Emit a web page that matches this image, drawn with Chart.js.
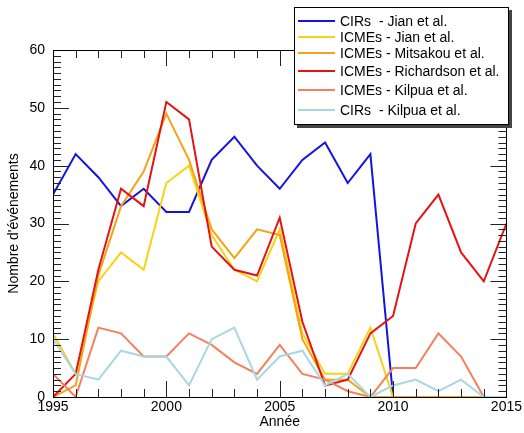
<!DOCTYPE html>
<html><head><meta charset="utf-8">
<script src="https://cdn.jsdelivr.net/npm/chart.js@4"></script>
<style>
html,body{margin:0;padding:0;background:#fff;}
#wrap{position:relative;width:524px;height:433px;}
#legend{position:absolute;left:294px;top:7px;width:213px;height:116px;border:1px solid #000;background:#fff;box-shadow:3px 3px 0 #444;font-family:"Liberation Sans",Arial,sans-serif;font-size:14px;color:#000;}
.row{position:absolute;left:0;height:16px;line-height:16px;white-space:pre;}
.row .sw{position:absolute;left:3px;top:7px;width:37px;height:2px;}
.row .tx{position:absolute;left:45px;top:0;}
</style></head>
<body><div id="wrap"><canvas id="c" width="524" height="433"></canvas><div id="legend"></div></div>
<script>
const years = [1995,1996,1997,1998,1999,2000,2001,2002,2003,2004,2005,2006,2007,2008,2009,2010,2011,2012,2013,2014,2015];
const cirsJian       = [35,42,38,33,36,32,32,41,45,40,36,41,44,37,42,0,null,null,null,null,null];
const icmesJian      = [11,4,20,25,22,37,40,28,22,20,29,11,4,4,12,0,null,null,null,null,null];
const icmesMitsakou  = [0,2,21,33,39,49,41,29,24,29,28,10,3,3,0,0,0,0,0,0,null];
const icmesRichardson= [0,4,22,36,33,51,48,26,22,21,31,13,2,3,11,14,30,35,25,20,30];
const icmesKilpua    = [4,0,12,11,7,7,11,9,6,4,9,4,3,1,0,5,5,11,7,0,null];
const cirsKilpua     = [10,4,3,8,7,7,2,10,12,3,7,8,2,4,0,2,3,1,3,0,0];
const seriesNames = ["CIRs  - Jian et al.","ICMEs - Jian et al.","ICMEs - Mitsakou et al.","ICMEs - Richardson et al.","ICMEs - Kilpua et al.","CIRs  - Kilpua et al."];
const seriesValues = [cirsJian,icmesJian,icmesMitsakou,icmesRichardson,icmesKilpua,cirsKilpua];
const colors = ["#1414dc","#f8d214","#f5a312","#e41414","#f5805c","#a8d6e2"];
const legendRowTops = [5,21,37,55,74,94];

const FONT = "'Liberation Sans', Arial, sans-serif";

const datasets = seriesValues.map((vals,i)=>({
  label: seriesNames[i],
  data: years.map((y,j)=>({x:y,y:vals[j]})),
  borderColor: colors[i],
  backgroundColor: colors[i],
  borderWidth: 2,
  pointRadius: 0,
  tension: 0,
  fill: false,
  spanGaps: false,
  order: 6 - i
}));

const frame = {
  id:'frame',
  afterDatasetsDraw(chart){
    const {ctx, chartArea:a, scales:{x,y}} = chart;
    ctx.save();
    ctx.strokeStyle = '#222';
    ctx.lineWidth = 1;
    ctx.beginPath();
    for (let v=years[0]; v<=years[years.length-1]; v++){
      const px = Math.round(x.getPixelForValue(v))+0.5;
      const len = (v%5===0)?16:8;
      ctx.moveTo(px,a.bottom); ctx.lineTo(px,a.bottom-len);
      ctx.moveTo(px,a.top); ctx.lineTo(px,a.top+len);
    }
    for (let v=0; v<=60; v++){
      const py = Math.round(y.getPixelForValue(v))+0.5;
      const len = (v%10===0)?16:8;
      ctx.moveTo(a.left,py); ctx.lineTo(a.left+len,py);
      ctx.moveTo(a.right,py); ctx.lineTo(a.right-len,py);
    }
    ctx.stroke();
    ctx.strokeStyle = '#000';
    ctx.strokeRect(Math.round(a.left)+0.5, Math.round(a.top)+0.5, Math.round(a.right-a.left), Math.round(a.bottom-a.top));
    ctx.restore();
  }
};

new Chart(document.getElementById('c'), {
  type:'line',
  data:{datasets},
  options:{
    responsive:false,
    animation:false,
    devicePixelRatio:1,
    layout:{padding:{left:3,top:50,right:16,bottom:0}},
    plugins:{legend:{display:false},tooltip:{enabled:false}},
    scales:{
      x:{type:'linear',min:1995,max:2015,
        ticks:{stepSize:5,color:'#000',font:{family:FONT,size:14},padding:2,maxRotation:0,autoSkip:false,callback:v=>String(v)},
        grid:{display:false,drawTicks:false},border:{display:false},
        title:{display:true,text:'Année',color:'#000',font:{family:FONT,size:14},padding:{top:0,bottom:2}},
        afterFit(s){s.height=36;}
      },
      y:{min:0,max:60,
        ticks:{stepSize:10,color:'#000',font:{family:FONT,size:14},padding:8},
        grid:{display:false,drawTicks:false},border:{display:false},
        title:{display:true,text:"Nombre d'événements",color:'#000',font:{family:FONT,size:14},padding:{top:3,bottom:0}},
        afterFit(s){s.width=50;}
      }
    }
  },
  plugins:[frame]
});

const leg = document.getElementById('legend');
seriesNames.forEach((n,i)=>{
  const r = document.createElement('div');
  r.className='row'; r.style.top = legendRowTops[i]+'px';
  const sw = document.createElement('div'); sw.className='sw'; sw.style.background=colors[i];
  const tx = document.createElement('span'); tx.className='tx'; tx.textContent=n;
  r.appendChild(sw); r.appendChild(tx); leg.appendChild(r);
});
</script></body></html>
